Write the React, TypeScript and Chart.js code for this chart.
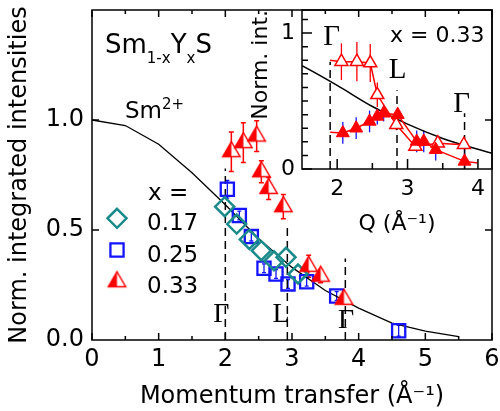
import React, { useEffect, useRef } from "react";
import { Chart, registerables } from "chart.js";

Chart.register(...registerables);

const SANS = "'DejaVu Sans', sans-serif";
const SERIF = "'Liberation Serif', serif";
const RED = "#ff0000";
const BLUE = "#1414ff";
const TEAL = "#1a8a8a";

// ---------- data ----------
// Sm2+ magnetic form factor
const formFactorQ = [0, 0.5, 1, 1.5, 2, 2.5, 3, 3.5, 4, 4.5, 5, 5.5];
const formFactor = [1.0, 0.975, 0.89, 0.76, 0.615, 0.46, 0.33, 0.225, 0.145, 0.077, 0.04, 0.015];

// x = 0.17 (diamonds)
const q017 = [1.99, 2.17, 2.36, 2.54, 2.73, 2.91, 3.09];
const v017 = [0.606, 0.527, 0.457, 0.406, 0.36, 0.376, 0.3];

// x = 0.25 (squares)
const q025 = [2.03, 2.21, 2.39, 2.58, 2.76, 2.94, 3.22, 3.67, 4.6];
const v025 = [0.685, 0.566, 0.47, 0.326, 0.3, 0.255, 0.265, 0.2, 0.042];
const e025 = [0.04, 0.02, 0.02, 0.02, 0.02, 0.02, 0.02, 0.02, 0.025];

// x = 0.33 (half-filled triangles)
const q033 = [2.09, 2.27, 2.47, 2.54, 2.65, 2.87, 3.25, 3.43, 3.78];
const v033 = [0.856, 0.897, 0.927, 0.765, 0.689, 0.606, 0.335, 0.29, 0.185];
const e033 = [0.09, 0.09, 0.07, 0.05, 0.05, 0.055, 0.05, 0.03, 0.02];

// symmetry points (main)
const mainSymQ = [2.0, 2.93, 3.8];
const mainSymTop = [0.78, 0.51, 0.37];
const mainSymNames = ["Γ", "L", "Γ"];

// inset: x = 0.33, open triangles
const qOpen = [2.06, 2.28, 2.47, 2.57, 2.84, 3.11, 3.43, 3.8];
const vOpen = [0.79, 0.79, 0.78, 0.546, 0.326, 0.166, 0.19, 0.179];
const eOpen = [0.135, 0.145, 0.14, 0.09, 0.04, 0.03, 0.03, 0.02];
const qOpenLine = [1.9, 2.06, 2.28, 2.47, 2.57, 2.84, 3.11, 3.43, 3.8];
const vOpenLine = [0.8, 0.79, 0.79, 0.78, 0.546, 0.326, 0.166, 0.19, 0.179];

// inset: x = 0.33, filled triangles
const qFill = [2.08, 2.27, 2.46, 2.57, 2.66, 2.86, 3.13, 3.23, 3.4, 3.81];
const vFill = [0.265, 0.3, 0.35, 0.387, 0.41, 0.4, 0.203, 0.203, 0.142, 0.056];
const eFill = [0.08, 0.08, 0.08, 0.06, 0.06, 0.05, 0.08, 0.08, 0.08, 0.15];
const qFillLine = [1.9, 2.08, 2.27, 2.46, 2.57, 2.66, 2.86, 3.13, 3.23, 3.4, 3.81, 4.0];
const vFillLine = [0.27, 0.265, 0.3, 0.35, 0.387, 0.41, 0.4, 0.203, 0.203, 0.142, 0.056, 0.045];

// symmetry points (inset)
const insetSymQ = [1.9, 2.85, 3.81];
const insetSymTop = [0.79, 0.58, 0.41];
const insetSymNames = ["Γ", "L", "Γ"];

// tick values
const mainXTicks = [0, 1, 2, 3, 4, 5, 6];
const mainXMinor = [0.5, 1.5, 2.5, 3.5, 4.5, 5.5];
const mainYTicks = [0, 0.5, 1.0];
const mainYMarks = [0.5, 1.0];
const insetXTicks = [2, 3, 4];
const insetXMinor = [2.5, 3.5];
const insetYTicks = [0, 1];
const insetYMinor = [0.1, 0.2, 0.3, 0.4, 0.5, 0.6, 0.7, 0.8, 0.9, 1.1];

const legendLabels = ["0.17", "0.25", "0.33"];

// ---------- helpers ----------
const pts = (xs: number[], ys: number[]) => xs.map((x, i) => ({ x, y: ys[i] }));

function makeHalfTriangle(r: number, color: string, lw: number) {
  const size = Math.ceil(2 * r + 2 * lw + 4);
  const c = document.createElement("canvas");
  c.width = size;
  c.height = size;
  const g = c.getContext("2d")!;
  const cx = size / 2;
  const cy = size / 2;
  const path = () => {
    g.beginPath();
    g.moveTo(cx, cy - r);
    g.lineTo(cx + 0.866 * r, cy + 0.5 * r);
    g.lineTo(cx - 0.866 * r, cy + 0.5 * r);
    g.closePath();
  };
  path();
  g.fillStyle = "#fff";
  g.fill();
  g.save();
  g.beginPath();
  g.rect(0, 0, cx, size);
  g.clip();
  path();
  g.fillStyle = color;
  g.fill();
  g.restore();
  path();
  g.strokeStyle = color;
  g.lineWidth = lw;
  g.lineJoin = "miter";
  g.stroke();
  return c;
}

const errorBarPlugin = {
  id: "errorBars",
  beforeDatasetsDraw(chart: any) {
    const { ctx, chartArea: a } = chart;
    ctx.save();
    ctx.beginPath();
    ctx.rect(a.left, a.top, a.right - a.left, a.bottom - a.top);
    ctx.clip();
    chart.data.datasets.forEach((ds: any, i: number) => {
      if (!ds.errors) return;
      const meta = chart.getDatasetMeta(i);
      const ys = chart.scales[meta.yAxisID];
      ctx.strokeStyle = ds.errorColor;
      ctx.lineWidth = ds.errorWidth || 1.5;
      meta.data.forEach((el: any, j: number) => {
        const raw = ds.data[j];
        const e = ds.errors[j];
        const y1 = ys.getPixelForValue(raw.y + e);
        const y2 = ys.getPixelForValue(raw.y - e);
        ctx.beginPath();
        ctx.moveTo(el.x, y1);
        ctx.lineTo(el.x, y2);
        const cap = ds.errorCap || 0;
        if (cap > 0) {
          ctx.moveTo(el.x - cap, y1);
          ctx.lineTo(el.x + cap, y1);
          ctx.moveTo(el.x - cap, y2);
          ctx.lineTo(el.x + cap, y2);
        }
        ctx.stroke();
      });
    });
    ctx.restore();
  },
};

function framePlugin(cfg: {
  xMajor: number[];
  xMinor: number[];
  yMajor: number[];
  yMinor: number[];
  majLen: number;
  minLen: number;
  top: boolean;
  right: boolean;
  lw: number;
}) {
  return {
    id: "frameTicks",
    afterDatasetsDraw(chart: any) {
      const { ctx, chartArea: a, scales } = chart;
      const xs = scales.x;
      const ys = scales.y;
      ctx.save();
      ctx.strokeStyle = "#000";
      ctx.lineWidth = cfg.lw;
      ctx.strokeRect(a.left, a.top, a.right - a.left, a.bottom - a.top);
      ctx.beginPath();
      const xt = (vals: number[], len: number) =>
        vals.forEach((v) => {
          const p = xs.getPixelForValue(v);
          ctx.moveTo(p, a.bottom);
          ctx.lineTo(p, a.bottom - len);
          if (cfg.top) {
            ctx.moveTo(p, a.top);
            ctx.lineTo(p, a.top + len);
          }
        });
      const yt = (vals: number[], len: number) =>
        vals.forEach((v) => {
          const p = ys.getPixelForValue(v);
          ctx.moveTo(a.left, p);
          ctx.lineTo(a.left + len, p);
          if (cfg.right) {
            ctx.moveTo(a.right, p);
            ctx.lineTo(a.right - len, p);
          }
        });
      xt(cfg.xMajor, cfg.majLen);
      xt(cfg.xMinor, cfg.minLen);
      yt(cfg.yMajor, cfg.majLen);
      yt(cfg.yMinor, cfg.minLen);
      ctx.stroke();
      ctx.restore();
    },
  };
}

type Part = { t: string; size: number; dy?: number; family?: string };
type Ann = { x: number; y: number; parts: Part[]; align?: "left" | "center" };

function drawAnn(ctx: CanvasRenderingContext2D, chart: any, ann: Ann) {
  const xs = chart.scales.x;
  const ys = chart.scales.y;
  let x = xs.getPixelForValue(ann.x);
  const y = ys.getPixelForValue(ann.y);
  ctx.textBaseline = "alphabetic";
  ctx.textAlign = "left";
  ctx.fillStyle = "#000";
  const widths = ann.parts.map((p) => {
    ctx.font = `${p.size}px ${p.family || SANS}`;
    return ctx.measureText(p.t).width;
  });
  if (ann.align === "center") x -= widths.reduce((s, w) => s + w, 0) / 2;
  ann.parts.forEach((p, i) => {
    ctx.font = `${p.size}px ${p.family || SANS}`;
    ctx.fillText(p.t, x, y + (p.dy || 0));
    x += widths[i];
  });
}

function drawMarker(ctx: CanvasRenderingContext2D, style: any, x: number, y: number, r: number, color: string, lw: number) {
  if (typeof style !== "string") {
    ctx.drawImage(style, x - style.width / 2, y - style.height / 2);
    return;
  }
  ctx.save();
  ctx.strokeStyle = color;
  ctx.lineWidth = lw;
  ctx.beginPath();
  if (style === "rect") {
    const s = Math.SQRT1_2 * r;
    ctx.rect(x - s, y - s, 2 * s, 2 * s);
  } else if (style === "rectRot") {
    ctx.moveTo(x, y - r);
    ctx.lineTo(x + r, y);
    ctx.lineTo(x, y + r);
    ctx.lineTo(x - r, y);
    ctx.closePath();
  }
  ctx.stroke();
  ctx.restore();
}

function symLineDatasets(qs: number[], tops: number[]) {
  return qs.map((q, i) => ({
    data: [
      { x: q, y: 0 },
      { x: q, y: tops[i] },
    ],
    showLine: true,
    borderColor: "#000",
    borderWidth: 1.5,
    borderDash: [8, 5],
    pointRadius: 0,
    fill: false,
  }));
}

export default function App() {
  const mainRef = useRef<HTMLCanvasElement>(null);
  const insetRef = useRef<HTMLCanvasElement>(null);

  useEffect(() => {
    Chart.defaults.color = "#000";
    Chart.defaults.font.family = SANS;

    const halfTri = makeHalfTriangle(10, RED, 1.5);

    const mainDatasets: any[] = [
      {
        label: "0.33",
        data: pts(q033, v033),
        pointStyle: halfTri,
        pointRadius: 10,
        errors: e033,
        errorColor: RED,
        errorCap: 2.5,
        errorWidth: 1.5,
      },
      {
        label: "0.17",
        data: pts(q017, v017),
        pointStyle: "rectRot",
        pointRadius: 9.5,
        pointBorderColor: TEAL,
        pointBackgroundColor: "rgba(0,0,0,0)",
        pointBorderWidth: 2.5,
      },
      {
        label: "0.25",
        data: pts(q025, v025),
        pointStyle: "rect",
        pointRadius: 9.3,
        pointBorderColor: BLUE,
        pointBackgroundColor: "rgba(0,0,0,0)",
        pointBorderWidth: 2.3,
        errors: e025,
        errorColor: BLUE,
        errorCap: 2,
        errorWidth: 1.3,
      },
      {
        label: "Sm2+",
        data: pts(formFactorQ, formFactor),
        showLine: true,
        borderColor: "#000",
        borderWidth: 1.3,
        pointRadius: 0,
        tension: 0,
      },
      ...symLineDatasets(mainSymQ, mainSymTop),
    ];

    const legendRows = [
      { ds: 1, markerY: 0.553, textY: 0.5 },
      { ds: 2, markerY: 0.409, textY: 0.355 },
      { ds: 0, markerY: 0.265, textY: 0.214 },
    ];

    const mainAnnPlugin = {
      id: "mainAnn",
      afterDraw(chart: any) {
        const ctx = chart.ctx as CanvasRenderingContext2D;
        ctx.save();
        drawAnn(ctx, chart, {
          x: 0.195,
          y: 1.305,
          parts: [
            { t: "Sm", size: 26 },
            { t: "1-x", size: 15, dy: 10 },
            { t: "Y", size: 26 },
            { t: "x", size: 15, dy: 10 },
            { t: "S", size: 26 },
          ],
        });
        drawAnn(ctx, chart, {
          x: 0.495,
          y: 1.009,
          parts: [
            { t: "Sm", size: 23 },
            { t: "2+", size: 15, dy: -9 },
          ],
        });
        drawAnn(ctx, chart, { x: 0.84, y: 0.636, parts: [{ t: "x =", size: 23 }] });
        legendRows.forEach((row, i) => {
          const ds = chart.data.datasets[row.ds];
          const mx = chart.scales.x.getPixelForValue(0.375);
          const my = chart.scales.y.getPixelForValue(row.markerY);
          drawMarker(ctx, ds.pointStyle, mx, my, ds.pointRadius, ds.pointBorderColor, ds.pointBorderWidth || 2);
          drawAnn(ctx, chart, { x: 0.825, y: row.textY, parts: [{ t: legendLabels[i], size: 23 }] });
        });
        const symLabelPos = [
          { x: 1.94, y: 0.082 },
          { x: 2.835, y: 0.082 },
          { x: 3.81, y: 0.055 },
        ];
        mainSymNames.forEach((n, i) =>
          drawAnn(ctx, chart, {
            x: symLabelPos[i].x,
            y: symLabelPos[i].y,
            align: "center",
            parts: [{ t: n, size: 28, family: SERIF }],
          })
        );
        ctx.restore();
      },
    };

    const main = new Chart(mainRef.current!, {
      type: "scatter",
      data: { datasets: mainDatasets },
      options: {
        responsive: false,
        animation: false,
        events: [],
        layout: { autoPadding: false, padding: { left: 0, top: 10, right: 8, bottom: 0 } },
        plugins: { legend: { display: false }, tooltip: { enabled: false } },
        scales: {
          x: {
            type: "linear",
            min: 0,
            max: 6,
            afterBuildTicks: (s: any) => {
              s.ticks = mainXTicks.map((v) => ({ value: v }));
            },
            afterFit: (s: any) => {
              s.height = 71;
              s.paddingLeft = 0;
              s.paddingRight = 0;
            },
            grid: { display: false, drawTicks: false },
            border: { display: false },
            ticks: {
              font: { family: SANS, size: 24 },
              color: "#000",
              padding: 5,
              maxRotation: 0,
              autoSkip: false,
              callback: (v: any) => String(v),
            },
            title: {
              display: true,
              text: "Momentum transfer (Å⁻¹)",
              font: { family: SANS, size: 24 },
              color: "#000",
              padding: { top: 0, bottom: 0 },
            },
          },
          y: {
            type: "linear",
            min: 0,
            max: 1.5,
            afterBuildTicks: (s: any) => {
              s.ticks = mainYTicks.map((v) => ({ value: v }));
            },
            afterFit: (s: any) => {
              s.width = 92;
              s.paddingTop = 0;
              s.paddingBottom = 0;
            },
            grid: { display: false, drawTicks: false },
            border: { display: false },
            ticks: {
              font: { family: SANS, size: 24 },
              color: "#000",
              padding: 8,
              autoSkip: false,
              callback: (v: any) => Number(v).toFixed(1),
            },
            title: {
              display: true,
              text: "Norm. integrated intensities",
              font: { family: SANS, size: 24 },
              color: "#000",
              padding: { top: 5, bottom: 0 },
            },
          },
        },
      } as any,
      plugins: [
        errorBarPlugin,
        framePlugin({
          xMajor: mainXTicks,
          xMinor: mainXMinor,
          yMajor: mainYMarks,
          yMinor: [],
          majLen: 7,
          minLen: 4,
          top: true,
          right: true,
          lw: 1.5,
        }),
        mainAnnPlugin,
      ],
    });

    const insetDatasets: any[] = [
      {
        data: pts(qFill, vFill),
        pointStyle: "triangle",
        pointRadius: 7.5,
        pointBackgroundColor: RED,
        pointBorderColor: RED,
        pointBorderWidth: 1,
        errors: eFill,
        errorColor: BLUE,
        errorWidth: 1.3,
      },
      {
        data: pts(qOpen, vOpen),
        pointStyle: "triangle",
        pointRadius: 7.5,
        pointBackgroundColor: "#fff",
        pointBorderColor: RED,
        pointBorderWidth: 1.5,
        errors: eOpen,
        errorColor: RED,
        errorWidth: 1.3,
      },
      {
        data: pts(qFillLine, vFillLine),
        showLine: true,
        borderColor: RED,
        borderWidth: 1.5,
        pointRadius: 0,
      },
      {
        data: pts(qOpenLine, vOpenLine),
        showLine: true,
        borderColor: RED,
        borderWidth: 1.5,
        pointRadius: 0,
      },
      {
        data: pts(formFactorQ, formFactor),
        showLine: true,
        borderColor: "#000",
        borderWidth: 1.5,
        pointRadius: 0,
        cubicInterpolationMode: "monotone",
      },
      ...symLineDatasets(insetSymQ, insetSymTop),
    ];

    const insetAnnPlugin = {
      id: "insetAnn",
      afterDraw(chart: any) {
        const ctx = chart.ctx as CanvasRenderingContext2D;
        ctx.save();
        const symLabelPos = [
          { x: 1.92, y: 0.912 },
          { x: 2.86, y: 0.67 },
          { x: 3.77, y: 0.42 },
        ];
        insetSymNames.forEach((n, i) =>
          drawAnn(ctx, chart, {
            x: symLabelPos[i].x,
            y: symLabelPos[i].y,
            align: "center",
            parts: [{ t: n, size: 29, family: SERIF }],
          })
        );
        drawAnn(ctx, chart, { x: 2.75, y: 0.935, parts: [{ t: "x = 0.33", size: 22 }] });
        ctx.restore();
      },
    };

    const inset = new Chart(insetRef.current!, {
      type: "scatter",
      data: { datasets: insetDatasets },
      options: {
        responsive: false,
        animation: false,
        events: [],
        layout: { autoPadding: false, padding: { left: 0, top: 10, right: 8, bottom: 0 } },
        plugins: { legend: { display: false }, tooltip: { enabled: false } },
        scales: {
          x: {
            type: "linear",
            min: 1.5,
            max: 4.2,
            afterBuildTicks: (s: any) => {
              s.ticks = insetXTicks.map((v) => ({ value: v }));
            },
            afterFit: (s: any) => {
              s.height = 81;
              s.paddingLeft = 0;
              s.paddingRight = 0;
            },
            grid: { display: false, drawTicks: false },
            border: { display: false },
            ticks: {
              font: { family: SANS, size: 22 },
              color: "#000",
              padding: 7,
              maxRotation: 0,
              autoSkip: false,
              callback: (v: any) => String(v),
            },
            title: {
              display: true,
              text: "Q (Å⁻¹)",
              font: { family: SANS, size: 22 },
              color: "#000",
              padding: { top: 0, bottom: 13 },
            },
          },
          y: {
            type: "linear",
            min: 0,
            max: 1.17,
            afterBuildTicks: (s: any) => {
              s.ticks = insetYTicks.map((v) => ({ value: v }));
            },
            afterFit: (s: any) => {
              s.width = 62;
              s.paddingTop = 0;
              s.paddingBottom = 0;
            },
            grid: { display: false, drawTicks: false },
            border: { display: false },
            ticks: {
              font: { family: SANS, size: 22 },
              color: "#000",
              padding: 7,
              autoSkip: false,
              callback: (v: any) => String(v),
            },
            title: {
              display: true,
              text: "Norm. int.",
              align: "end",
              font: { family: SANS, size: 22 },
              color: "#000",
              padding: { top: 8, bottom: 0 },
            },
          },
        },
      } as any,
      plugins: [
        errorBarPlugin,
        framePlugin({
          xMajor: insetXTicks,
          xMinor: insetXMinor,
          yMajor: insetYTicks,
          yMinor: insetYMinor,
          majLen: 10,
          minLen: 6,
          top: false,
          right: false,
          lw: 1.5,
        }),
        insetAnnPlugin,
      ],
    });

    return () => {
      main.destroy();
      inset.destroy();
    };
  }, []);

  return (
    <div style={{ position: "fixed", left: 0, top: 0, width: 500, height: 411, background: "#fff" }}>
      <canvas
        ref={mainRef}
        width={500}
        height={411}
        style={{ position: "absolute", left: 0, top: 0, width: 500, height: 411 }}
      />
      <canvas
        ref={insetRef}
        width={260}
        height={250}
        style={{ position: "absolute", left: 240, top: 0, width: 260, height: 250 }}
      />
    </div>
  );
}
